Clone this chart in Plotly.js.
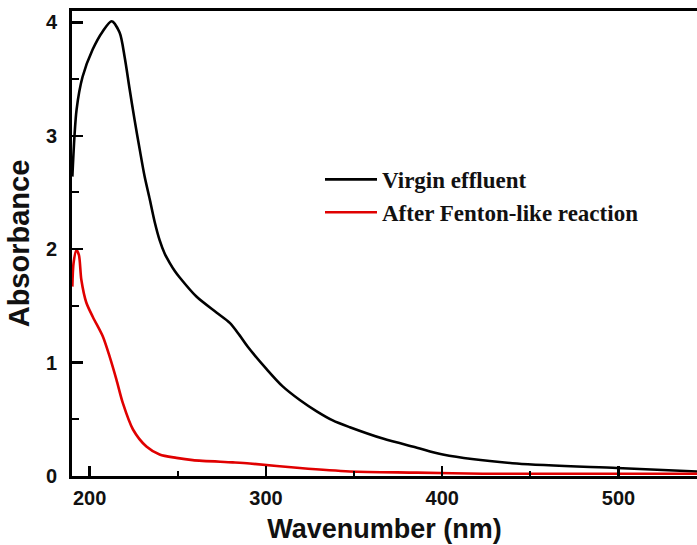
<!DOCTYPE html>
<html>
<head>
<meta charset="utf-8">
<script src="https://cdn.plot.ly/plotly-3.0.1.min.js"></script>
<style>html,body{margin:0;padding:0;background:#fff;}#chart{width:697px;height:545px;}</style>
</head>
<body>
<div id="chart"></div>
<script>
// Virgin effluent
const virginWavelength = [190.2, 192.6, 196, 201.7, 207.4, 212.5, 217.0, 219.9, 222.7, 225.5, 228.4, 231.2, 234.1, 236.9, 239.7, 242.6, 245.4, 248.2, 251.1, 260.7, 272.1, 279.5, 285.1, 289.7, 300.5, 309.5, 319.2, 328.8, 337.9, 347.6, 366.3, 385.6, 400.3, 442.3, 499.1, 544.5];
const virginAbs = [2.64, 3.23, 3.52, 3.76, 3.92, 4.01, 3.91, 3.69, 3.41, 3.14, 2.88, 2.64, 2.44, 2.24, 2.08, 1.96, 1.88, 1.81, 1.75, 1.58, 1.44, 1.35, 1.24, 1.14, 0.94, 0.79, 0.67, 0.57, 0.49, 0.43, 0.33, 0.25, 0.19, 0.11, 0.07, 0.04];
// After Fenton-like reaction
const fentonWavelength = [190.2, 190.9, 192.5, 193.9, 195.3, 198.1, 201.9, 207.5, 211.4, 215.2, 218.9, 224.6, 232.2, 239.7, 249.2, 258.5, 281.2, 290.8, 319.2, 347.6, 385.6, 423, 480, 544.5];
const fentonAbs = [1.67, 1.88, 1.99, 1.95, 1.73, 1.53, 1.40, 1.23, 1.05, 0.85, 0.64, 0.41, 0.26, 0.19, 0.16, 0.14, 0.12, 0.11, 0.07, 0.04, 0.03, 0.02, 0.02, 0.02];

const seriesNames = ['Virgin effluent', 'After Fenton-like reaction'];
const xTickVals = [200, 300, 400, 500];
const yTickVals = [0, 1, 2, 3, 4];

const traces = [
  {x: virginWavelength, y: virginAbs, name: seriesNames[0], mode: 'lines',
   line: {color: '#000000', width: 2.6, shape: 'spline', smoothing: 0.8}},
  {x: fentonWavelength, y: fentonAbs, name: seriesNames[1], mode: 'lines',
   line: {color: '#e00000', width: 2.6, shape: 'spline', smoothing: 0.8}}
];

const fam = 'Arial, "Liberation Sans", sans-serif';
const tickFont = {family: fam, size: 20, color: '#111', weight: 'bold'};

const layout = {
  width: 697, height: 545,
  margin: {l: 72, r: 0, t: 11, b: 69},
  paper_bgcolor: '#ffffff', plot_bgcolor: '#ffffff',
  showlegend: true,
  legend: {
    x: 0.3968, y: 0.684, xanchor: 'left', yanchor: 'top',
    bgcolor: 'rgba(0,0,0,0)', borderwidth: 0, itemwidth: 52,
    font: {family: '"Times New Roman", "Liberation Serif", serif', size: 23, color: '#111', weight: 'bold'},
    tracegroupgap: 0
  },
  xaxis: {
    range: [190, 544.5], tickvals: xTickVals, ticktext: xTickVals.map(String),
    showline: true, linewidth: 3, linecolor: '#000', mirror: true,
    ticks: 'inside', ticklen: 10, tickwidth: 2.5, tickcolor: '#000',
    minor: {dtick: 50, tick0: 200, ticks: 'inside', ticklen: 5, tickwidth: 2, tickcolor: '#000'},
    showgrid: false, zeroline: false, tickfont: tickFont, ticklabelstandoff: 2,
    title: {text: 'Wavenumber (nm)', font: {family: fam, size: 27, color: '#111', weight: 'bold'}, standoff: 12}
  },
  yaxis: {
    range: [0, 4.1], tickvals: yTickVals, ticktext: yTickVals.map(String),
    showline: true, linewidth: 3, linecolor: '#000', mirror: false,
    ticks: 'inside', ticklen: 11, tickwidth: 2.5, tickcolor: '#000',
    minor: {dtick: 0.5, tick0: 0, ticks: 'inside', ticklen: 7, tickwidth: 2, tickcolor: '#000'},
    showgrid: false, zeroline: false, tickfont: tickFont, ticklabelstandoff: 8,
    title: {text: 'Absorbance', font: {family: fam, size: 29, color: '#111', weight: 'bold'}, standoff: 8}
  }
};

Plotly.newPlot('chart', traces, layout, {displayModeBar: false, staticPlot: true});
</script>
</body>
</html>
